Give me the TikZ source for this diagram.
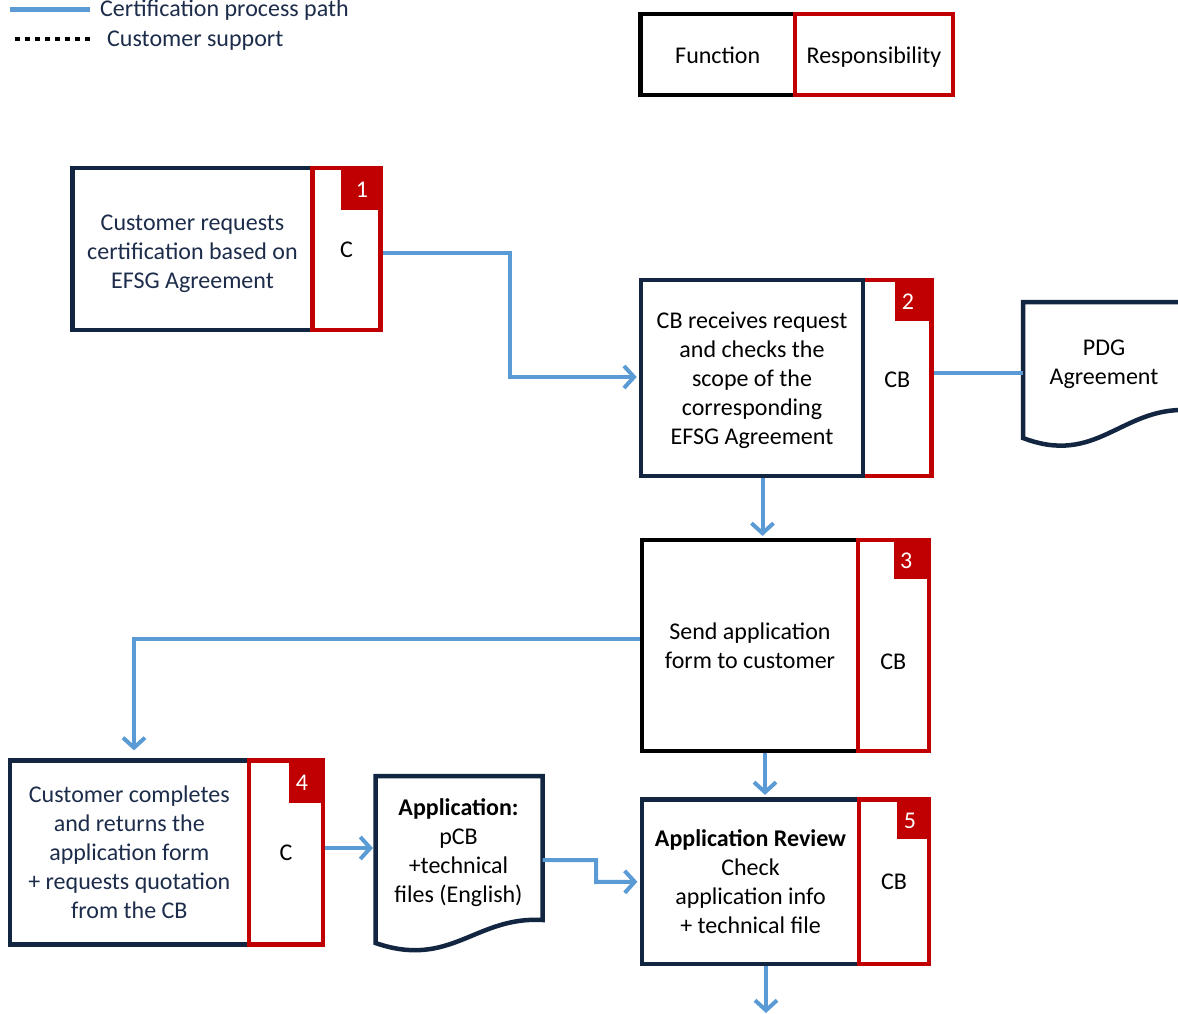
\documentclass[tikz,border=0pt]{standalone}
\usepackage{fontspec}
\setmainfont{Carlito}
\usetikzlibrary{arrows.meta}
\definecolor{navy}{RGB}{18,38,66}
\definecolor{navytext}{RGB}{28,44,74}
\definecolor{cred}{RGB}{192,0,0}
\definecolor{cblue}{RGB}{91,155,213}
\begin{document}
\begin{tikzpicture}[x=1pt,y=-1pt,
  every node/.style={font=\fontsize{24}{29}\selectfont},
  fbox/.style={draw=navy, line width=4.2pt, align=center, inner sep=0pt},
  rbox/.style={draw=cred, line width=4.2pt, inner sep=0pt},
  badge/.style={fill=cred, text=white, inner sep=0pt, anchor=north east, text height=20pt, text depth=0pt},
  flow/.style={draw=cblue, line width=4pt, -{Straight Barb[length=10pt,width=22pt]}},
  link/.style={draw=cblue, line width=4pt},
  docline/.style={draw=navy, line width=4.5pt, line join=miter},
]
\useasboundingbox (0,0) rectangle (1178,1014);

% legend
\coordinate (la) at (10,9.3);
\coordinate (lb) at (90,9.3);
\draw[link, line width=4.5pt] (la) -- (lb);
\node[anchor=base west, text=navytext, inner sep=0pt] (lt1) at (100,17) {Certification process path};
\coordinate (lc) at (15,39);
\coordinate (ld) at (93,39);
\draw[line width=4.5pt, dash pattern=on 4.5pt off 5.5pt] (lc) -- (ld);
\node[anchor=base west, text=navytext, inner sep=0pt] (lt2) at (107,47) {Customer support};

\node[draw=black, line width=4.5pt, minimum width=154.5pt, minimum height=81pt, inner sep=0pt, text height=22pt, text depth=4.4pt] (lgf) at (717.75,54.5) {Function};
\node[draw=cred, line width=4.5pt, minimum width=158pt, minimum height=81pt, inner sep=0pt, text height=22pt, text depth=4.4pt] (lgr) at (874,54.5) {Responsibility};

% box 1
\node[fbox, minimum width=240pt, minimum height=162.5pt, text=navytext] (f1) at (192.5,249) {\rule{0pt}{25.5pt}Customer requests\\certification based on\\EFSG Agreement};
\node[rbox, minimum width=68pt, minimum height=162.5pt, text height=17.4pt, text depth=0pt] (r1) at (346.5,249) {C};
\node[badge, minimum width=41pt, minimum height=44pt] (b1) at (r1.north east) {1};

% box 2
\node[rbox, minimum width=68.4pt, minimum height=196pt, text height=19.4pt, text depth=0pt] (r2) at (897.2,378) {CB};
\node[badge, minimum width=38pt, minimum height=43pt] (b2) at (r2.north east) {\hspace*{-12.6pt}2};
\node[fbox, minimum width=222pt, minimum height=196pt] (f2) at (752,378) {\rule{0pt}{21.5pt}CB receives request\\and checks the\\scope of the\\corresponding\\EFSG Agreement};

% PDG document
\draw[docline] (1023,302) -- (1023,438) .. controls (1096,466) and (1121,408) .. (1186,410) -- (1186,302) -- cycle;
\node[align=center] (pdg) at (1104,364.5) {PDG\\Agreement};
\coordinate (pdgL) at (1023,373);

% box 3
\node[fbox, draw=black, minimum width=216pt, minimum height=211pt] (f3) at (750,645.5) {Send application\\form to customer};
\node[rbox, minimum width=70.7pt, minimum height=211pt, text height=47.8pt, text depth=0pt] (r3) at (893.35,645.5) {CB};
\node[badge, minimum width=37pt, minimum height=41pt] (b3) at (r3.north east) {\hspace*{-12pt}3};

% box 4
\node[fbox, minimum width=239.4pt, minimum height=184pt, text=navytext] (f4) at (129.3,852.5) {Customer completes\\and returns the\\application form\\+ requests quotation\\from the CB};
\node[rbox, minimum width=74pt, minimum height=184pt, text height=16.5pt, text depth=0pt] (r4) at (286,852.5) {C};
\node[badge, minimum width=35.5pt, minimum height=44pt] (b4) at (r4.north east) {\hspace*{-10.6pt}4};

% application document
\draw[docline] (375.5,776) -- (375.5,943) .. controls (450.5,969) and (475.5,916) .. (542.5,920) -- (542.5,776) -- cycle;
\node[align=center] (app) at (458.5,853) {\textbf{Application:}\\pCB\\+technical\\files (English)};
\coordinate (appL) at (375.5,848);
\coordinate (appR) at (542.5,860);

% box 5
\node[fbox, minimum width=217pt, minimum height=164.5pt] (f5) at (750.5,881.75) {\textbf{Application Review}\\Check\\application info\\+ technical file};
\node[rbox, minimum width=70pt, minimum height=164.5pt] (r5) at (894,881.75) {CB};
\node[badge, minimum width=34pt, minimum height=41pt] (b5) at (r5.north east) {\hspace*{-8pt}5};

% connectors
\coordinate (k1) at (510,377);
\draw[flow, shorten >=2.2pt] ([yshift=-4pt]r1.east) -| (k1) -- (k1 -| f2.west);
\draw[link] (pdgL -| r2.east) -- (pdgL);

\coordinate (s2) at ([xshift=10.5pt]f2.south);
\draw[flow, shorten >=2pt] (s2) -- (s2 |- f3.north);

\coordinate (s3) at ([yshift=6.5pt]f3.west);
\coordinate (t4) at ([xshift=4.7pt]f4.north);
\draw[flow, shorten >=8pt] (s3) -| (t4);

\coordinate (s35) at ([xshift=15pt]f3.south);
\draw[flow, shorten >=2.5pt] (s35) -- (s35 |- f5.north);

\draw[flow, shorten >=2.5pt] (appL -| r4.east) -- (appL);

\coordinate (k5) at (596,882);
\draw[flow, shorten >=2.5pt] (appR) -| (k5) -- (f5.west);

\coordinate (s5) at ([xshift=15.5pt]f5.south);
\coordinate (end5) at (s5 |- 0,1013);
\draw[flow] (s5) -- (end5);
\end{tikzpicture}
\end{document}
